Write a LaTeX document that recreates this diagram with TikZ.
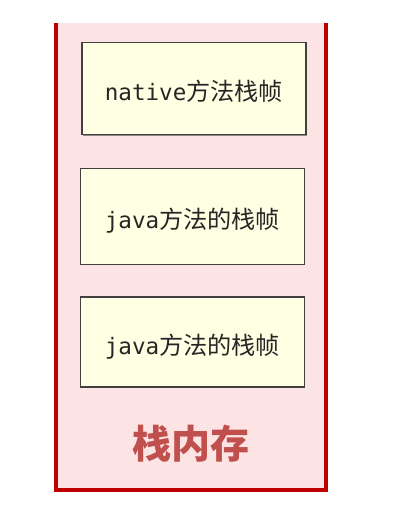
\documentclass[tikz,border=0pt]{standalone}
\usepackage{fontspec}
\usepackage{tikz}
\usetikzlibrary{shadows}
\newfontfamily\cjk[Scale=1.07]{Noto Sans CJK SC}
\newfontfamily\mono{DejaVu Sans Mono}
\definecolor{stackred}{HTML}{C00000}
\definecolor{stackpink}{HTML}{FDE4E4}
\definecolor{framefill}{HTML}{FFFFE3}
\definecolor{labelred}{HTML}{C0504D}
\newcommand{\frametxt}[2]{{\mono #1}{\cjk #2}}

\begin{document}
\begin{tikzpicture}[
    x=1pt,y=1pt,
    frame/.style={draw=black!75,line width=1.4pt,fill=framefill,minimum width=224pt,inner sep=0pt,text height=25pt,text depth=0pt,font=\fontsize{22.6}{26}\selectfont,text=black!85},
    mem/.style={line width=4pt,draw=stackred}
  ]
    \useasboundingbox (0,0) rectangle (419,507);
    \fill[stackpink] (56,17) rectangle (326,484);
    \draw[mem] (56,484) -- (56,17) -- (326,17) -- (326,484);
    \node[frame,minimum height=92pt,drop shadow={shadow xshift=1.2pt,shadow yshift=-1.2pt,opacity=.6,fill=black!70}] (native) at (194,418.5) {\frametxt{native}{方法栈帧}};
    \node[frame,minimum height=96pt] (java1) at (192.5,290.5) {\frametxt{java}{方法的栈帧}};
    \node[frame,minimum height=90pt] (java2) at (192.5,165) {\frametxt{java}{方法的栈帧}};
    \node[font=\cjk\bfseries\fontsize{36.5}{40}\selectfont,text=labelred] (title) at (191,63.5) {栈内存};
  \end{tikzpicture}
\end{document}
